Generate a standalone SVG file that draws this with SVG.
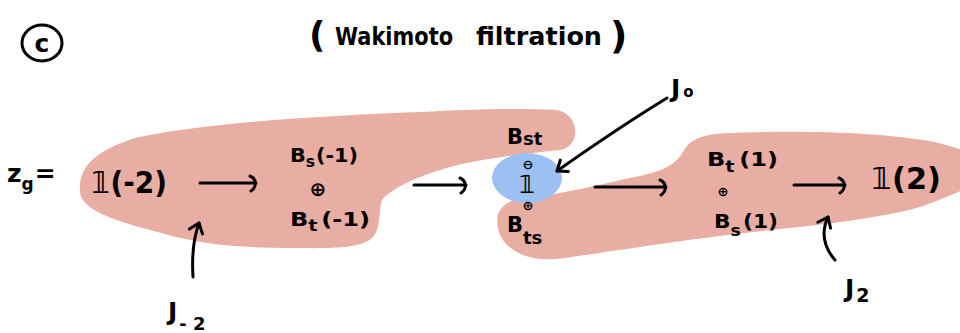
<svg xmlns="http://www.w3.org/2000/svg" width="960" height="333" viewBox="0 0 960 333">
<defs>
<style>
.blob{fill:#E9AEA3;stroke:none}
.blue{fill:#9DC0F3;stroke:none}
.t{font-family:"DejaVu Sans","Liberation Sans",sans-serif;fill:#000;font-weight:bold}
.ln{fill:none;stroke:#000;stroke-width:3;stroke-linecap:round;stroke-linejoin:round}
.sym{font-family:"DejaVu Sans","Liberation Sans",sans-serif;fill:#000;text-anchor:middle;dominant-baseline:central;font-weight:bold}
</style>
<marker id="hook" viewBox="-10 -10 20 20" markerWidth="20" markerHeight="20" refX="0" refY="0" orient="auto" markerUnits="userSpaceOnUse">
<path d="M-6,-7 C1,-4 1,4 -5,8" fill="none" stroke="#000" stroke-width="3" stroke-linecap="round"/>
</marker>
<marker id="vee" viewBox="-12 -10 20 20" markerWidth="20" markerHeight="20" refX="0" refY="0" orient="auto" markerUnits="userSpaceOnUse">
<path d="M-9,-7 L0,0 L-9,7" fill="none" stroke="#000" stroke-width="3" stroke-linecap="round" stroke-linejoin="round"/>
</marker>
</defs>
<rect width="960" height="333" fill="#fff"/>

<g id="regions">
<path class="blob" d="M80,192 C78,165 98,150 135,138 C210,122 320,116 420,112 C480,109 530,108 556,110 C580,113 582,146 560,150 C520,154 470,160 440,170 C415,178 392,188 382,200 C378,210 382,228 372,238 C360,250 320,248 290,248 C240,248 200,244 165,234 C120,222 82,212 80,192 Z"/>
<path class="blob" d="M498,228 C494,210 505,200 525,198 C560,195 600,184 640,176 C662,171 676,165 683,152 C690,139 702,134 730,133 C800,130 880,132 935,142 C950,146 962,150 970,152 L970,187 C950,195 930,205 905,211 C860,220 830,224 780,229 C700,237 620,250 565,258 C525,264 502,248 498,228 Z"/>
<ellipse class="blue" cx="527" cy="178" rx="35" ry="25"/>
</g>

<g id="label-c">
<ellipse cx="42" cy="43" rx="20" ry="18" fill="none" stroke="#000" stroke-width="3"/>
<text class="t" x="42" y="52" font-size="25" text-anchor="middle">c</text>
</g>

<g id="title">
<text class="t" y="44" font-size="25"><tspan x="309" y="47" font-size="36">(</tspan><tspan x="335" y="45" textLength="118" lengthAdjust="spacingAndGlyphs">Wakimoto</tspan><tspan x="476" y="45" textLength="126" lengthAdjust="spacingAndGlyphs">filtration</tspan><tspan x="610" y="48" font-size="38">)</tspan></text>
</g>

<g id="zg">
<text class="t" x="7" y="182" font-size="25">z<tspan font-size="17" dy="8">g</tspan><tspan dy="-8" dx="1">=</tspan></text>
</g>

<g id="node-1m2">
<text class="t" x="91" y="193" font-size="31" textLength="76" lengthAdjust="spacingAndGlyphs">𝟙(-2)</text>
</g>

<g id="node-B-1">
<text class="t" x="290" y="162" font-size="20" textLength="68" lengthAdjust="spacingAndGlyphs">B<tspan font-size="15" dy="5">s</tspan><tspan dy="-5" dx="1">(-1)</tspan></text>
<text class="sym" x="318" y="189" font-size="20">⊕</text>
<text class="t" x="290" y="226" font-size="20" textLength="80" lengthAdjust="spacingAndGlyphs">B<tspan font-size="16" dy="5">t</tspan><tspan dy="-5" dx="3">(-1)</tspan></text>
</g>

<g id="node-center">
<text class="t" x="507" y="144" font-size="21">B<tspan font-size="18" dy="1">st</tspan></text>
<text class="sym" x="528" y="164" font-size="13">⊖</text>
<text class="t" x="527" y="193" font-size="24" text-anchor="middle">𝟙</text>
<text class="sym" x="528" y="205" font-size="13">⊕</text>
<text class="t" x="507" y="232" font-size="21">B<tspan font-size="18" dy="12">ts</tspan></text>
</g>

<g id="node-B1">
<text class="t" x="707" y="166" font-size="20" textLength="71" lengthAdjust="spacingAndGlyphs">B<tspan font-size="16" dy="6">t</tspan><tspan dy="-6" dx="4">(1)</tspan></text>
<text class="sym" x="723" y="191" font-size="13">⊕</text>
<text class="t" x="714" y="228" font-size="20" textLength="64" lengthAdjust="spacingAndGlyphs">B<tspan font-size="16" dy="8">s</tspan><tspan dy="-8" dx="2">(1)</tspan></text>
</g>

<g id="node-12">
<text class="t" x="871" y="189" font-size="30" textLength="70" lengthAdjust="spacingAndGlyphs">𝟙(2)</text>
</g>

<g id="label-J0">
<text class="t" x="671" y="97" font-size="25">J<tspan font-size="15" dx="3">o</tspan></text>
</g>
<g id="label-Jm2">
<text class="t" x="168" y="320" font-size="25">J<tspan font-size="18" dy="10" dx="2">- 2</tspan></text>
</g>
<g id="label-J2">
<text class="t" x="845" y="297" font-size="25">J<tspan font-size="19" dy="5" dx="2">2</tspan></text>
</g>

<g id="connectors" class="ln">
<path d="M200,183 L256,183" marker-end="url(#hook)"/>
<path d="M414,185 L466,185" marker-end="url(#hook)"/>
<path d="M595,187 L666,187" marker-end="url(#hook)"/>
<path d="M794,185 L845,185" marker-end="url(#hook)"/>
<path d="M667,98 Q618,128 557,171" marker-end="url(#vee)"/>
<path d="M193,277 Q191,245 199,223" marker-end="url(#vee)"/>
<path d="M835,260 C822,245 822,230 828,217" marker-end="url(#vee)"/>
</g>
</svg>
